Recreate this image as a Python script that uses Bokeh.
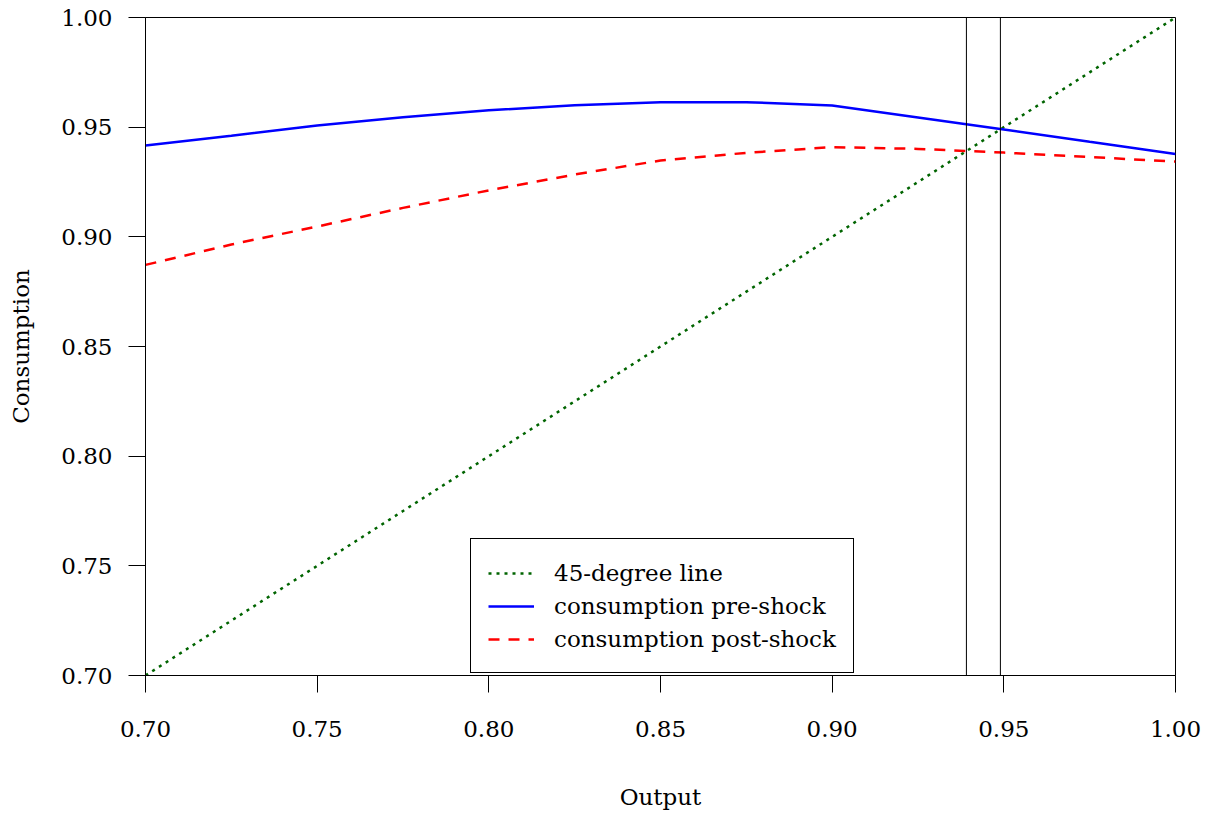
from bokeh.plotting import figure
from bokeh.models import Range1d, FixedTicker, Span, Legend, LegendItem
from bokeh.embed import file_html
from bokeh.resources import INLINE

# ---- data ----
output_grid = [0.700, 0.725, 0.750, 0.775, 0.800, 0.825, 0.850, 0.875, 0.900, 0.925, 0.950, 0.975, 1.000]
line_45 = [0.700, 0.725, 0.750, 0.775, 0.800, 0.825, 0.850, 0.875, 0.900, 0.925, 0.950, 0.975, 1.000]
cons_pre = [0.9416, 0.9461, 0.9508, 0.9545, 0.9577, 0.9600, 0.9614, 0.9614, 0.9599, 0.9544, 0.9489, 0.9433, 0.9378]
cons_post = [0.8872, 0.8965, 0.9047, 0.9132, 0.9212, 0.9284, 0.9348, 0.9383, 0.9409, 0.9401, 0.9384, 0.9364, 0.9343]
steady_states = [0.9391, 0.9490]
tick_values = [0.70, 0.75, 0.80, 0.85, 0.90, 0.95, 1.00]
tick_labels = ["0.70", "0.75", "0.80", "0.85", "0.90", "0.95", "1.00"]
legend_labels = ["45-degree line", "consumption pre-shock", "consumption post-shock"]

FONT = "DejaVu Serif"
FS = "23px"

p = figure(frame_width=1030, frame_height=658,
           x_range=Range1d(0.70, 1.00), y_range=Range1d(0.70, 1.00),
           output_backend="svg", toolbar_location=None,
           min_border_left=145, min_border_top=17, min_border_right=30, min_border_bottom=138,
           background_fill_color="white", border_fill_color="white")

p.xgrid.visible = False
p.ygrid.visible = False
p.outline_line_color = "black"
p.outline_line_width = 1
p.outline_line_alpha = 1

for ax in (p.xaxis[0], p.yaxis[0]):
    ax.ticker = FixedTicker(ticks=tick_values)
    ax.major_label_overrides = {v: l for v, l in zip(tick_values, tick_labels)}
    ax.major_tick_in = 0
    ax.major_tick_out = 17
    ax.minor_tick_in = 0
    ax.minor_tick_out = 0
    ax.major_tick_line_color = "black"
    ax.axis_line_color = "black"
    ax.major_label_text_font = FONT
    ax.major_label_text_font_size = FS
    ax.major_label_text_color = "black"
    ax.axis_label_text_font = FONT
    ax.axis_label_text_font_size = FS
    ax.axis_label_text_font_style = "normal"
    ax.axis_label_text_color = "black"

p.xaxis.axis_label = "Output"
p.yaxis.axis_label = "Consumption"
p.xaxis.major_label_standoff = 28
p.xaxis.axis_label_standoff = 44
p.yaxis.major_label_standoff = 16
p.yaxis.axis_label_standoff = 24

r45 = p.line(output_grid, line_45, line_color="#006400", line_width=2.5, line_dash="3 5")
rpre = p.line(output_grid, cons_pre, line_color="blue", line_width=2.5)
rpost = p.line(output_grid, cons_post, line_color="red", line_width=2.5, line_dash="11 9")

for xv in steady_states:
    p.add_layout(Span(location=xv, dimension="height", line_color="black", line_width=1))

legend = Legend(items=[LegendItem(label=legend_labels[0], renderers=[r45]),
                       LegendItem(label=legend_labels[1], renderers=[rpre]),
                       LegendItem(label=legend_labels[2], renderers=[rpost])],
                location=(325, 2))
legend.border_line_color = "black"
legend.border_line_width = 1
legend.border_line_alpha = 1
legend.background_fill_alpha = 1
legend.padding = 17
legend.spacing = 0
legend.margin = 0
legend.glyph_width = 46
legend.glyph_height = 20
legend.label_height = 33
legend.label_standoff = 20
legend.label_text_font = FONT
legend.label_text_font_size = FS
legend.label_text_color = "black"
p.add_layout(legend)

open("out.html", "w").write(file_html(p, INLINE))
